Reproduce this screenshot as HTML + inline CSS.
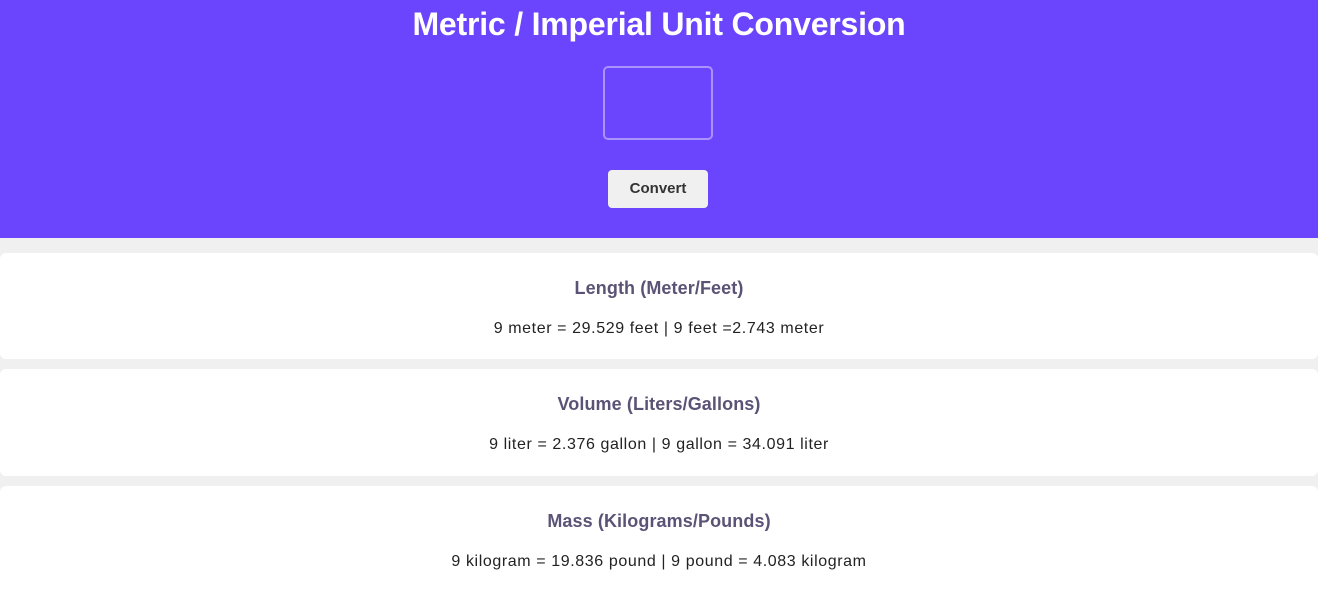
<!DOCTYPE html>
<html><head><meta charset="utf-8"><style>
*{box-sizing:border-box;margin:0;padding:0}
html,body{width:1318px;height:590px;overflow:hidden}
body{background:#f0f0f0;font-family:"Liberation Sans",sans-serif;position:relative}
header{position:absolute;left:0;top:0;width:1318px;height:238px;background:#6b44fe}
h1{position:absolute;top:6px;left:0;width:100%;text-align:center;color:#fff;font-size:32px;font-weight:bold;letter-spacing:-0.2px}
.inp{position:absolute;left:603px;top:66px;width:110px;height:74px;border:2px solid #a993ff;border-radius:5px;background:transparent}
.btn{position:absolute;left:608px;top:170px;width:100px;height:38px;background:#f0f0f0;border-radius:4px;border:none;font-family:"Liberation Sans",sans-serif;font-weight:bold;font-size:15px;color:#333;line-height:38px;text-align:center}
.card{position:absolute;left:0;width:1318px;background:#fff;border-radius:6px;text-align:center}
.card h2{position:absolute;top:25px;width:100%;font-size:18px;font-weight:bold;color:#5b5376;letter-spacing:0.1px}
.card p{position:absolute;top:67px;width:100%;font-size:16px;color:#222;letter-spacing:0.6px}
</style></head><body>
<header>
<h1>Metric / Imperial Unit Conversion</h1>
<input class="inp" type="text">
<button class="btn">Convert</button>
</header>
<div class="card" style="top:253px;height:106px">
<h2>Length (Meter/Feet)</h2>
<p>9 meter = 29.529 feet | 9 feet =2.743 meter</p></div>
<div class="card" style="top:369px;height:107px">
<h2>Volume (Liters/Gallons)</h2>
<p>9 liter = 2.376 gallon | 9 gallon = 34.091 liter</p></div>
<div class="card" style="top:486px;height:104px;border-radius:6px 6px 0 0">
<h2>Mass (Kilograms/Pounds)</h2>
<p>9 kilogram = 19.836 pound | 9 pound = 4.083 kilogram</p></div>
</body></html>
